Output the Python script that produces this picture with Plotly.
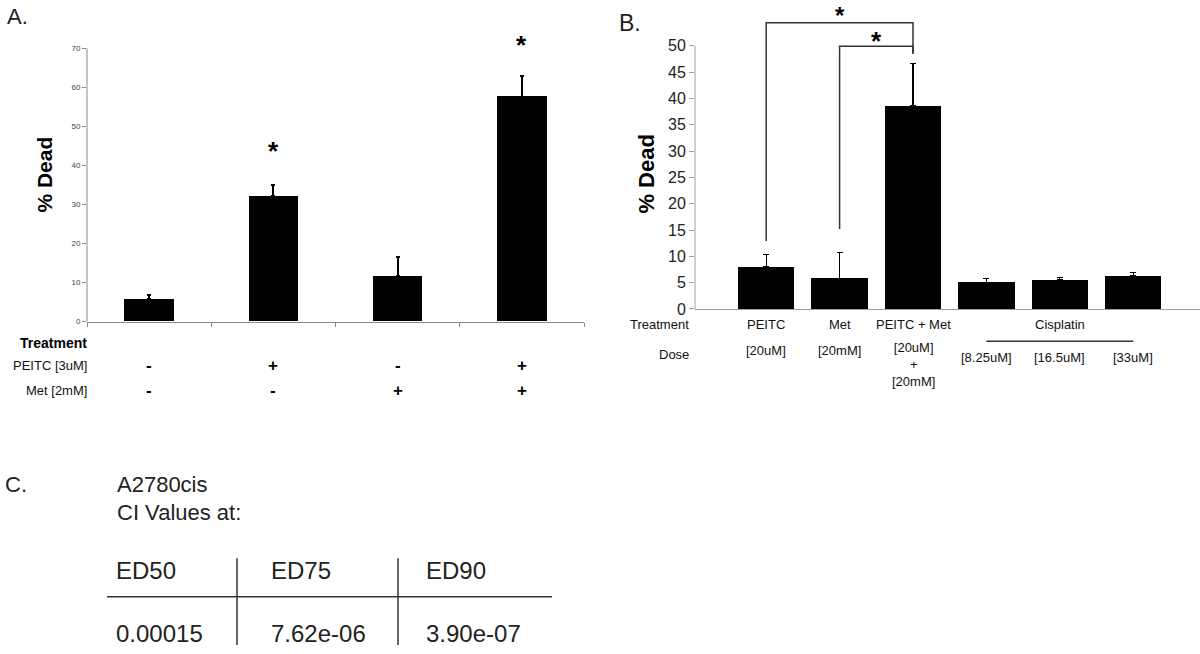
import plotly.graph_objects as go

# ---------------- data ----------------
a_groups = ["Control", "PEITC", "Met", "PEITC+Met"]
a_values = [5.8, 32.2, 11.6, 57.6]
a_err_top = [6.7, 35.0, 16.5, 62.8]
a_star_groups = ["PEITC", "PEITC+Met"]
a_star_y = [45.0, 72.0]
a_row_labels = ["PEITC [3uM]", "Met [2mM]"]
a_peitc_signs = ["-", "+", "-", "+"]
a_met_signs = ["-", "-", "+", "+"]
a_yticks = [0, 10, 20, 30, 40, 50, 60, 70]

b_groups = ["PEITC", "Met", "PEITC + Met", "Cis 8.25", "Cis 16.5", "Cis 33"]
b_values = [8.0, 5.85, 38.6, 5.1, 5.5, 6.3]
b_err_top = [10.4, 10.7, 46.7, 5.85, 6.0, 7.0]
b_yticks = [0, 5, 10, 15, 20, 25, 30, 35, 40, 45, 50]
b_treat_labels = ["PEITC", "Met", "PEITC + Met"]
b_dose_labels = ["[20uM]", "[20mM]"]
b_cis_doses = ["[8.25uM]", "[16.5uM]", "[33uM]"]
# significance brackets: (left group, left start, top, right group, right end)
b_brackets = [(0, 12.9, 54.4, 2, 48.5), (1, 15.2, 49.9, 2, 48.5)]
b_star_x = [1.0, 1.5]
b_star_y = [58.7, 51.9]

ci_title = ["A2780cis", "CI Values at:"]
ci_headers = ["ED50", "ED75", "ED90"]
ci_values = ["0.00015", "7.62e-06", "3.90e-07"]

# ---------------- layout helpers ----------------
W, H = 1200, 654
FONT = "Liberation Sans, Arial, sans-serif"


def px(x):
    return x / W


def py(y):
    return 1 - y / H


def label(x, y, text, size, color="#111", xanchor="center", xref="paper", yref="paper", **kw):
    d = dict(x=x, y=y, xref=xref, yref=yref, text=text, showarrow=False,
             xanchor=xanchor, yanchor="middle", font=dict(family=FONT, size=size, color=color))
    d.update(kw)
    return d


fig = go.Figure()

fig.add_trace(go.Bar(
    x=a_groups, y=a_values, width=0.4, marker=dict(color="black", line=dict(width=0)),
    error_y=dict(type="data", symmetric=False,
                 array=[t - v for t, v in zip(a_err_top, a_values)],
                 arrayminus=[0] * len(a_values), color="black", thickness=2, width=2),
    xaxis="x", yaxis="y", showlegend=False))

fig.add_trace(go.Bar(
    x=b_groups, y=b_values, width=0.77, marker=dict(color="black", line=dict(width=0)),
    error_y=dict(type="data", symmetric=False,
                 array=[t - v for t, v in zip(b_err_top, b_values)],
                 arrayminus=[0] * len(b_values), color="black", thickness=1.2, width=3),
    xaxis="x2", yaxis="y2", showlegend=False))

shapes = []
annotations = []

# y-axis lines (drawn only up to the top tick)
shapes.append(dict(type="line", xref="x domain", yref="y", x0=0, x1=0, y0=0, y1=a_yticks[-1],
                   line=dict(color="#8a8a8a", width=1)))
shapes.append(dict(type="line", xref="x2 domain", yref="y2", x0=0, x1=0, y0=0, y1=b_yticks[-1],
                   line=dict(color="#a0a0a0", width=1)))

# significance brackets in B
for (l, ly, top, r, ry) in b_brackets:
    shapes.append(dict(type="path", xref="x2", yref="y2",
                       path=f"M {l},{ly} L {l},{top} L {r},{top} L {r},{ry}",
                       line=dict(color="#333333", width=1.5)))

# stars
for g, yv in zip(a_star_groups, a_star_y):
    annotations.append(label(g, yv, "<b>*</b>", 26, "black", xref="x", yref="y", yshift=-5))
annotations.append(dict(x=b_star_x[0], y=b_star_y[0], xref="x2", yref="y2", text="<b>*</b>",
                        showarrow=False, xanchor="center", yanchor="top",
                        font=dict(family=FONT, size=24, color="black")))
annotations.append(label(b_star_x[1], b_star_y[1], "<b>*</b>", 26, "black", xref="x2", yref="y2", yshift=-5))

# panel letters
annotations.append(label(px(5), py(17), "A.", 22, "#222", xanchor="left"))
annotations.append(label(px(617), py(23), "B.", 23, "#222", xanchor="left"))
annotations.append(label(px(3), py(491), "C.", 22, "#222", xanchor="left"))

# y titles
annotations.append(label(px(45), py(177), "<b>% Dead</b>", 21, "black", textangle=-90))
annotations.append(label(px(647), py(177), "<b>% Dead</b>", 22, "black", textangle=-90))

# Panel A treatment table
annotations.append(label(px(89), py(348), "<b>Treatment</b>", 14, "black", xanchor="right"))
for lab, yy in zip(a_row_labels, [371, 396]):
    annotations.append(label(px(89), py(yy), lab, 13, xanchor="right"))
for signs, yy in zip([a_peitc_signs, a_met_signs], [371, 396]):
    for g, s in zip(a_groups, signs):
        annotations.append(label(g, py(yy), f"<b>{s}</b>", 17, "black", xref="x"))

# Panel B labels
annotations.append(label(px(691), py(329), "Treatment", 13, xanchor="right"))
annotations.append(label(px(691), py(359), "Dose", 13, xanchor="right"))
for g, lab in zip(b_groups[:3], b_treat_labels):
    annotations.append(label(g, py(329), lab, 13, xref="x2"))
annotations.append(label(b_groups[4], py(329), "Cisplatin", 13, xref="x2"))
for g, lab in zip(b_groups[:2], b_dose_labels):
    annotations.append(label(g, py(355), lab, 13, xref="x2"))
annotations.append(label(b_groups[2], py(370), f"{b_dose_labels[0]}<br>+<br>{b_dose_labels[1]}", 13, xref="x2"))
for g, lab in zip(b_groups[3:], b_cis_doses):
    annotations.append(label(g, py(362), lab, 13, xref="x2"))
shapes.append(dict(type="line", xref="x2", yref="paper", x0=3, x1=5, y0=py(346), y1=py(346),
                   line=dict(color="#333", width=1.5)))

# Panel C
annotations.append(label(px(115), py(491), ci_title[0], 22, "#222", xanchor="left"))
annotations.append(label(px(115), py(520), ci_title[1], 22, "#222", xanchor="left"))
col_x = [114, 269, 424]
for cx, h, v in zip(col_x, ci_headers, ci_values):
    annotations.append(label(px(cx), py(578), h, 24, "#222", xanchor="left"))
    annotations.append(label(px(cx), py(642), v, 24, "#222", xanchor="left"))
shapes.append(dict(type="line", xref="paper", yref="paper", x0=px(107), x1=px(552), y0=py(605), y1=py(605),
                   line=dict(color="#333", width=1.5)))
for vx in [237, 398]:
    shapes.append(dict(type="line", xref="paper", yref="paper", x0=px(vx), x1=px(vx), y0=py(566), y1=0,
                       line=dict(color="#333", width=1.5)))

fig.update_layout(
    width=W, height=H, margin=dict(l=0, r=0, t=0, b=0),
    paper_bgcolor="white", plot_bgcolor="white", bargap=0,
    font=dict(family=FONT),
    xaxis=dict(domain=[px(87), px(584)], type="category", categoryorder="array", categoryarray=a_groups,
               range=[-0.5, 3.5], showticklabels=False, showline=True, linecolor="#8a8a8a", linewidth=1,
               ticks="outside", tickson="boundaries", ticklen=4, tickcolor="#8a8a8a", showgrid=False,
               zeroline=False),
    yaxis=dict(domain=[py(326), py(9.4)], range=[0, 80], tickvals=a_yticks, ticks="outside", ticklen=4,
               tickcolor="#8a8a8a", tickfont=dict(size=8, color="#444"), showline=False, showgrid=False,
               zeroline=False, anchor="x"),
    xaxis2=dict(domain=[px(695), 1.0], type="category", categoryorder="array", categoryarray=b_groups,
                range=[-0.97, 5.91], showticklabels=False, showline=True, linecolor="#a0a0a0", linewidth=1,
                ticks="", showgrid=False, zeroline=False, anchor="y2"),
    yaxis2=dict(domain=[py(313.3), 1.0], range=[0, 58.7], tickvals=b_yticks, ticks="outside", ticklen=5,
                tickcolor="#a0a0a0", tickfont=dict(size=16, color="#222"), showline=False, showgrid=False,
                zeroline=False, anchor="x2"),
    shapes=shapes, annotations=annotations,
)

page_fix = ("document.body.style.margin='0px';"
            "document.body.style.overflow='hidden';"
            "document.documentElement.style.overflow='hidden';")
fig.write_html("out.html", post_script=page_fix, config={"displayModeBar": False})
